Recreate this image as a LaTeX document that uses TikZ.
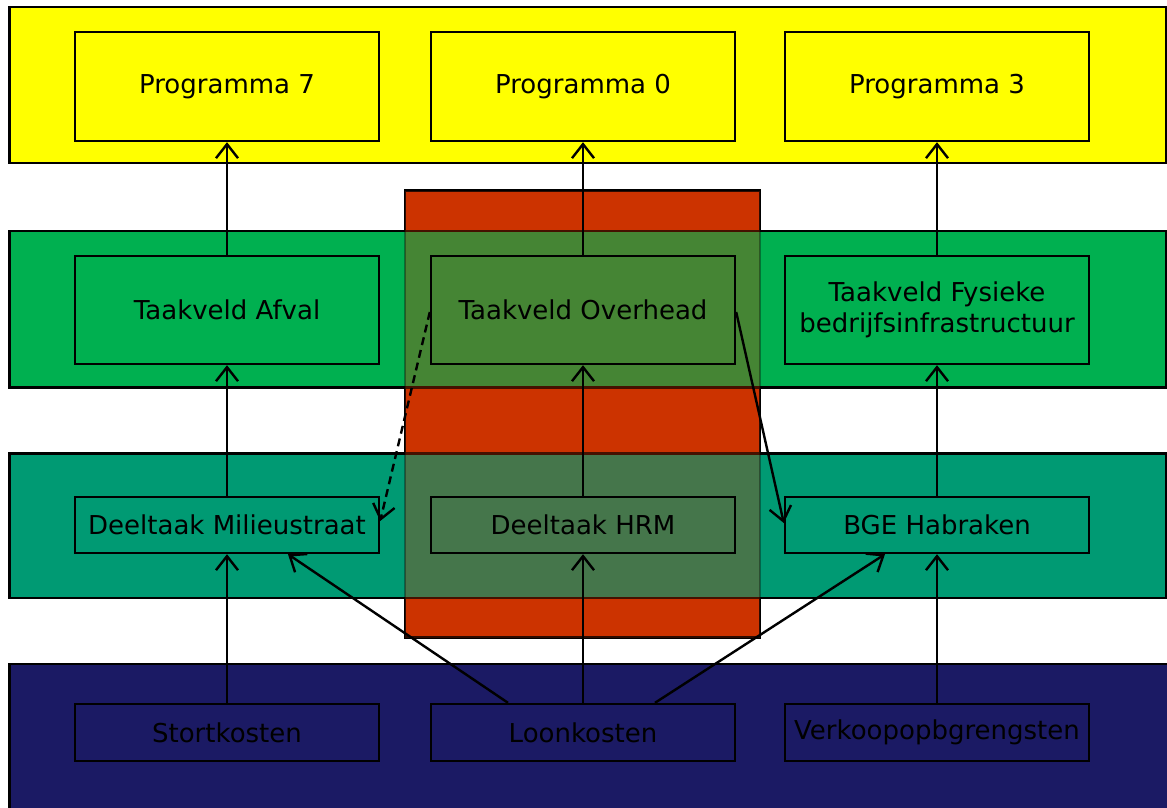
\documentclass[tikz,border=0pt]{standalone}
\usepackage{fontspec}
\setmainfont{DejaVu Sans}
\usetikzlibrary{arrows.meta}
\definecolor{bandyellow}{HTML}{FFFF00}
\definecolor{bandgreen}{HTML}{00B050}
\definecolor{bandteal}{HTML}{009A73}
\definecolor{bandnavy}{HTML}{1B1A64}
\definecolor{redblock}{HTML}{CC3300}
\begin{document}
\begin{tikzpicture}[x=1pt,y=-1pt,
  band/.style={draw=black, line width=2.4pt},
  box/.style={draw=black, line width=2.4pt, minimum width=304pt, inner sep=0pt,
    font=\fontsize{26}{31}\selectfont, align=center},
  arr/.style={-{Straight Barb[length=14pt,width=22pt]}, line width=2.4pt},
  dasharr/.style={arr, dash pattern=on 8pt off 5pt}]
\useasboundingbox (0,0) rectangle (1167,807);
% red block underneath
\fill[redblock, draw=black, line width=2.4pt] (405,190.5) rectangle (760,637.5);
% bands
\fill[bandyellow, band] (9.5,7) rectangle (1166,163);
\fill[bandgreen, band] (9.5,231) rectangle (1166,387.5);
\fill[bandteal, band] (9.5,453.5) rectangle (1166,598);
\fill[bandnavy, band] (9.5,664) rectangle (1172,812);
% red block overlay
\fill[redblock, fill opacity=0.34, draw=black, draw opacity=0.34, line width=2.4pt] (405,190.5) rectangle (760,637.5);
% boxes
\node[box, minimum height=109pt] (p7) at (227,86.5) {Programma 7};
\node[box, minimum height=109pt] (p0) at (583,86.5) {Programma 0};
\node[box, minimum height=109pt] (p3) at (937,86.5) {Programma 3};
\node[box, minimum height=108pt] (tv1) at (227,310) {Taakveld Afval};
\node[box, minimum height=108pt] (tv2) at (583,310) {Taakveld Overhead};
\node[box, minimum height=108pt] (tv3) at (937,310) {Taakveld Fysieke\\bedrijfsinfrastructuur};
\node[box, minimum height=56pt] (dt1) at (227,525) {Deeltaak Milieustraat};
\node[box, minimum height=56pt] (dt2) at (583,525) {Deeltaak HRM};
\node[box, minimum height=56pt] (dt3) at (937,525) {BGE Habraken};
\node[box, minimum height=57pt] (sk) at (227,732.5) {Stortkosten};
\node[box, minimum height=57pt] (lk) at (583,732.5) {Loonkosten};
\node[box, minimum height=57pt] (vk) at (937,732.5) {Verkoopopbgrengsten};
% connectors
\draw[arr] (tv1.north) -- (p7.south);
\draw[arr] (tv2.north) -- (p0.south);
\draw[arr] (tv3.north) -- (p3.south);
\draw[arr] (dt1.north) -- (tv1.south);
\draw[arr] (dt2.north) -- (tv2.south);
\draw[arr] (dt3.north) -- (tv3.south);
\draw[arr] (sk.north) -- (dt1.south);
\draw[arr] (lk.north) -- (dt2.south);
\draw[arr] (vk.north) -- (dt3.south);
\draw[arr] ([xshift=-75pt]lk.north) -- ([xshift=61pt]dt1.south);
\draw[arr] ([xshift=72pt]lk.north) -- ([xshift=-52pt]dt3.south);
\draw[dasharr] ([yshift=-2pt]tv2.west) -- ([yshift=4pt]dt1.east);
\draw[arr] ([yshift=-2pt]tv2.east) -- ([yshift=2pt]dt3.west);
\end{tikzpicture}
\end{document}
